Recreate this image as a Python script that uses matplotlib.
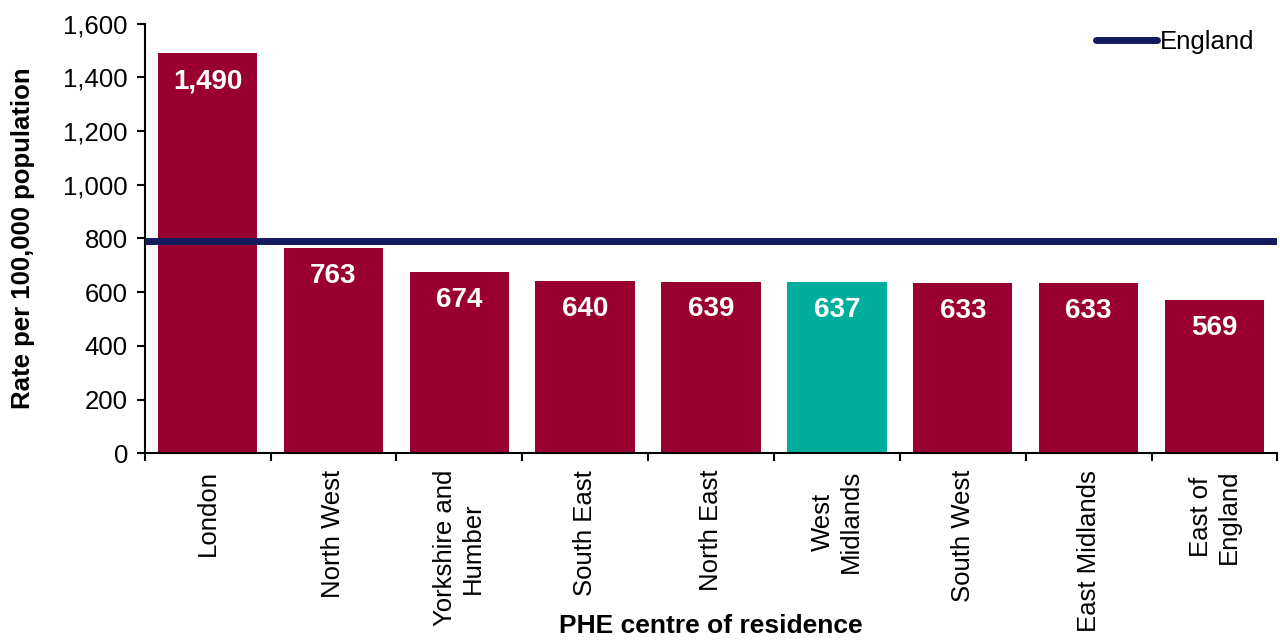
import numpy as np
import matplotlib.pyplot as plt
from matplotlib.ticker import FuncFormatter

plt.rcParams['font.family'] = ['Liberation Sans', 'DejaVu Sans']

regions = ['London', 'North West', 'Yorkshire and\nHumber', 'South East', 'North East',
           'West\nMidlands', 'South West', 'East Midlands', 'East of\nEngland']
rates = [1490, 763, 674, 640, 639, 637, 633, 633, 569]
england_rate = 790
highlight = 'West\nMidlands'

red = '#990030'
teal = '#00AE9B'
navy = '#141A5E'

fig = plt.figure(figsize=(12.8, 6.41), dpi=100)
ax = fig.add_axes([0.113, 0.293, 0.885, 0.670])

x = np.arange(len(regions))
colors = [teal if r == highlight else red for r in regions]
bars = ax.bar(x, rates, width=0.79, color=colors, zorder=2)

for b, v in zip(bars, rates):
    ax.annotate(f'{v:,}', (b.get_x() + b.get_width() / 2, v), xytext=(0, -20),
                textcoords='offset points', ha='center', va='center',
                color='white', fontsize=20, fontweight='bold', zorder=4)

ax.axhline(england_rate, color=navy, lw=5, zorder=3, label='England',
           solid_capstyle='round')

ax.set_xlim(-0.5, len(regions) - 0.5)
ax.set_ylim(0, 1600)
ax.set_yticks(np.arange(0, 1601, 200))
ax.yaxis.set_major_formatter(FuncFormatter(lambda v, p: f'{int(v):,}'))

# category boundaries get the tick marks, labels sit in the middle
ax.set_xticks(x)
ax.set_xticklabels(regions, rotation=90, va='top', ha='center', multialignment='center')
ax.set_xticks(np.arange(-0.5, len(regions), 1), minor=True)
ax.tick_params(axis='x', which='major', length=0, pad=12)
ax.tick_params(axis='x', which='minor', length=6, width=1.5, direction='out')
ax.tick_params(axis='y', length=6, width=1.5, direction='out', pad=6)
ax.tick_params(labelsize=18.5, colors='black')

for s in ['top', 'right']:
    ax.spines[s].set_visible(False)
for s in ['left', 'bottom']:
    ax.spines[s].set_linewidth(1.5)

ax.set_ylabel('Rate per 100,000 population', fontsize=18.5, fontweight='bold')
ax.yaxis.set_label_coords(-0.097, 0.5)
ax.set_xlabel('PHE centre of residence', fontsize=19, fontweight='bold')
ax.xaxis.set_label_coords(0.5, -0.375)

leg = ax.legend(loc='upper right', frameon=False, fontsize=18.5, handlelength=2.4,
                handletextpad=0.1, bbox_to_anchor=(1.0, 1.04))

fig.savefig('out.png', dpi=100)
